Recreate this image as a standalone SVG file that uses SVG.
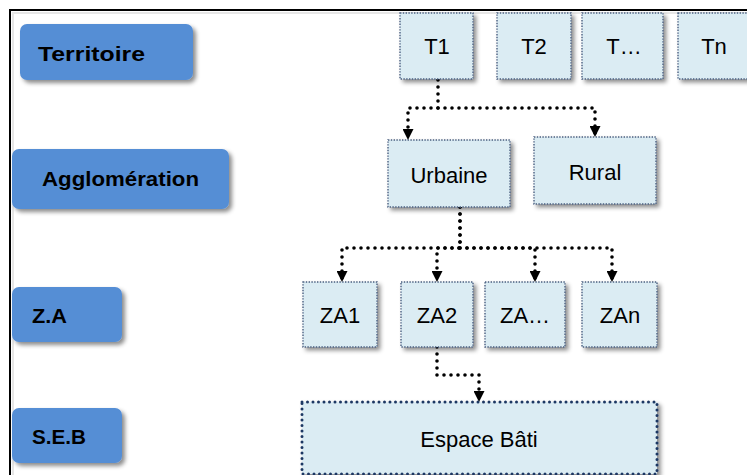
<svg xmlns="http://www.w3.org/2000/svg" width="747" height="475" viewBox="0 0 747 475">
<style>
.lbl rect{fill:#558ed5;filter:url(#sh)}
.lbl text{font-family:"Liberation Sans",Arial,sans-serif;font-weight:bold;font-size:21px;fill:#000}
.nd rect{fill:#dbecf3;stroke:#4a5f80;stroke-width:1.4;stroke-dasharray:1.4 1.4;filter:url(#sh)}
.nd text{font-family:"Liberation Sans",Arial,sans-serif;font-size:22px;fill:#000;text-anchor:middle}
#espace rect{stroke:#1f3864;stroke-width:3;stroke-dasharray:0 5.5;stroke-linecap:round}
.cn path{fill:none;stroke:#000;stroke-width:3.6;stroke-dasharray:0 7;stroke-linecap:round;stroke-linejoin:round;marker-end:url(#ar)}
</style>
<defs>
<filter id="sh" x="-20%" y="-20%" width="150%" height="160%">
<feDropShadow dx="3" dy="3" stdDeviation="2" flood-color="#000" flood-opacity="0.45"/>
</filter>
<marker id="ar" viewBox="0 0 10 10" refX="10" refY="5" markerUnits="userSpaceOnUse" markerWidth="11" markerHeight="11" orient="auto">
<path d="M0,0 L10,5 L0,10 z" fill="#000"/>
</marker>
</defs>
<rect x="0" y="0" width="747" height="475" fill="#fff"/>
<rect x="10" y="10" width="760" height="500" fill="#fff" stroke="#000" stroke-width="2"/>
<rect x="13" y="13" width="754" height="494" fill="none" stroke="#e6e6e6" stroke-width="2"/>

<g id="lbl-territoire" class="lbl"><rect x="20" y="24" width="173" height="56" rx="7"/><text x="38" y="61" textLength="107" lengthAdjust="spacingAndGlyphs">Territoire</text></g>
<g id="lbl-agglomeration" class="lbl"><rect x="12" y="149" width="217" height="60" rx="7"/><text x="42" y="186" textLength="157" lengthAdjust="spacingAndGlyphs">Agglomération</text></g>
<g id="lbl-za" class="lbl"><rect x="12" y="287" width="110" height="55" rx="7"/><text x="32" y="323" textLength="35" lengthAdjust="spacingAndGlyphs">Z.A</text></g>
<g id="lbl-seb" class="lbl"><rect x="12" y="408" width="110" height="55" rx="7"/><text x="32" y="444" textLength="54" lengthAdjust="spacingAndGlyphs">S.E.B</text></g>

<g class="cn" id="connectors">
<path d="M438,80 V108 H408 V140"/>
<path d="M438,108 H595 V137"/>
<path d="M460,207 V248 H342 V282"/>
<path d="M460,207 V248 H437 V282"/>
<path d="M460,248 H535 V282"/>
<path d="M460,248 H612 V282"/>
<path d="M437,347 V375 H479 V402"/>
</g>

<g id="t1" class="nd"><rect x="400" y="13" width="73" height="66"/><text x="437" y="54">T1</text></g>
<g id="t2" class="nd"><rect x="497" y="13" width="74" height="66"/><text x="534" y="54">T2</text></g>
<g id="tdots" class="nd"><rect x="582" y="13" width="81" height="66"/><text x="624" y="54">T…</text></g>
<g id="tn" class="nd"><rect x="678" y="13" width="76" height="66"/><text x="714" y="54">Tn</text></g>
<g id="urbaine" class="nd"><rect x="388" y="140" width="122" height="67"/><text x="449" y="183">Urbaine</text></g>
<g id="rural" class="nd"><rect x="534" y="137" width="122" height="67"/><text x="595" y="180">Rural</text></g>
<g id="za1" class="nd"><rect x="303" y="282" width="74" height="65"/><text x="340" y="323">ZA1</text></g>
<g id="za2" class="nd"><rect x="401" y="282" width="72" height="65"/><text x="437" y="323">ZA2</text></g>
<g id="zadots" class="nd"><rect x="485" y="282" width="80" height="65"/><text x="525" y="323">ZA…</text></g>
<g id="zan" class="nd"><rect x="582" y="282" width="75" height="65"/><text x="620" y="323">ZAn</text></g>
<g id="espace" class="nd"><rect x="302" y="402" width="355" height="72"/><text x="479" y="447">Espace Bâti</text></g>
</svg>
